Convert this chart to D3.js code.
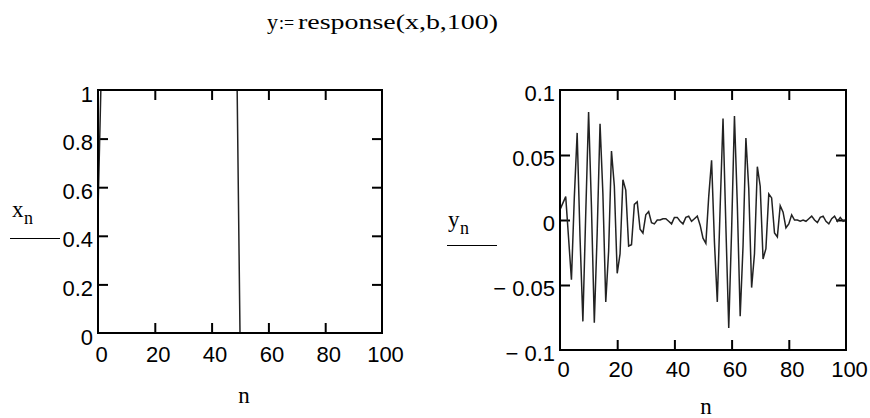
<!DOCTYPE html>
<html><head><meta charset="utf-8">
<script src="https://cdn.jsdelivr.net/npm/d3@7"></script>
<style>body{margin:0;background:#fff}svg{display:block}</style>
</head><body><svg id="c" width="870" height="418"></svg>
<script>
// sample index n = 0..100
const nIndex = d3.range(0, 101);

// input x_n (left chart)
const xSeries = [
  0.5, 1, 1, 1, 1, 1, 1, 1, 1, 1,
  1, 1, 1, 1, 1, 1, 1, 1, 1, 1,
  1, 1, 1, 1, 1, 1, 1, 1, 1, 1,
  1, 1, 1, 1, 1, 1, 1, 1, 1, 1,
  1, 1, 1, 1, 1, 1, 1, 1, 1, 1,
  0, 0, 0, 0, 0, 0, 0, 0, 0, 0,
  0, 0, 0, 0, 0, 0, 0, 0, 0, 0,
  0, 0, 0, 0, 0, 0, 0, 0, 0, 0,
  0, 0, 0, 0, 0, 0, 0, 0, 0, 0,
  0, 0, 0, 0, 0, 0, 0, 0, 0, 0,
  0
];

// response y_n (right chart)
const ySeries = [
  0.008, 0.013, 0.018, -0.014, -0.046, 0.017, 0.067, -0.013, -0.078, 0.005,
  0.083, 0.010, -0.079, -0.010, 0.074, 0.020, -0.063, -0.024, 0.053, 0.026,
  -0.041, -0.026, 0.031, 0.023, -0.020, -0.019, 0.012, 0.014, -0.007, -0.010,
  0.004, 0.0065, -0.002, -0.003, 0.000, 0.000, 0.001, 0.001, -0.001, -0.003,
  0.002, 0.002, -0.001, -0.003, 0.002, 0.003, -0.001, 0.001, 0.003, -0.004,
  -0.014, -0.018, 0.018, 0.046, -0.017, -0.063, 0.010, 0.078, -0.005, -0.083,
  -0.008, 0.080, 0.012, -0.074, -0.020, 0.063, 0.024, -0.052, -0.026, 0.041,
  0.026, -0.030, -0.022, 0.020, 0.017, -0.010, -0.013, 0.011, 0.006, -0.006,
  -0.003, 0.004, 0.000, 0.000, -0.001, 0.000, -0.001, 0.001, 0.003, 0.000,
  -0.002, 0.002, 0.003, -0.001, -0.003, 0.001, 0.003, -0.001, 0.002, -0.001,
  0.000
];

const xTicks = [0, 20, 40, 60, 80, 100];
const xTickLabels = ["0", "20", "40", "60", "80", "100"];
const leftYTicks = [0, 0.2, 0.4, 0.6, 0.8, 1];
const leftYTickLabels = ["0", "0.2", "0.4", "0.6", "0.8", "1"];
const rightYTicks = [-0.1, -0.05, 0, 0.05, 0.1];
const rightYTickLabels = ["\u2212 0.1", "\u2212 0.05", "0", "0.05", "0.1"];

const titleParts = ["y", ":=", "response(x,b,100)"];

const svg = d3.select("#c");
const SANS = "'Liberation Sans', Arial, sans-serif";
const SERIF = "'Liberation Serif', 'Times New Roman', serif";

function panel(cfg) {
  const x = d3.scaleLinear().domain([0, 100]).range([cfg.left, cfg.right]);
  const y = d3.scaleLinear().domain(cfg.yDomain).range([cfg.bottom, cfg.top]);
  const g = svg.append("g");
  const inner = cfg.xTicks.slice(1, -1);
  const innerY = cfg.yTicks.slice(1, -1);
  const TL = 10;

  // inward ticks on four sides
  const tickAxes = [
    [d3.axisBottom(x).tickValues(inner).tickSize(-TL).tickFormat(""), `translate(0,${cfg.bottom})`],
    [d3.axisTop(x).tickValues(inner).tickSize(-TL).tickFormat(""), `translate(0,${cfg.top})`],
    [d3.axisLeft(y).tickValues(innerY).tickSize(-TL).tickFormat(""), `translate(${cfg.left},0)`],
    [d3.axisRight(y).tickValues(innerY).tickSize(-TL).tickFormat(""), `translate(${cfg.right},0)`]
  ];
  tickAxes.forEach(([ax, tr]) => {
    const a = g.append("g").attr("transform", tr).call(ax);
    a.select(".domain").remove();
    a.selectAll("line").attr("stroke", "#000").attr("stroke-width", 2);
  });

  // tick labels
  const xl = g.append("g").attr("transform", `translate(0,${cfg.bottom})`)
    .call(d3.axisBottom(x).tickValues(cfg.xTicks).tickSize(0)
      .tickFormat((d, i) => cfg.xTickLabels[i]));
  xl.select(".domain").remove();
  xl.selectAll("text").attr("font-family", SANS).attr("font-size", 22)
    .attr("fill", "#000").attr("dy", null).attr("y", cfg.xLabelBase - cfg.bottom).attr("dx", 3);

  const yl = g.append("g").attr("transform", `translate(${cfg.left},0)`)
    .call(d3.axisLeft(y).tickValues(cfg.yTicks).tickSize(0)
      .tickFormat((d, i) => cfg.yTickLabels[i]));
  yl.select(".domain").remove();
  yl.selectAll("text").attr("font-family", SANS).attr("font-size", 22)
    .attr("fill", "#000").attr("x", -5).attr("dy", null).attr("y", cfg.yLabelOff);

  // data line
  const line = d3.line().x((d, i) => x(nIndex[i])).y(d => y(d));
  g.append("path").datum(cfg.series).attr("d", line)
    .attr("fill", "none").attr("stroke", "#222").attr("stroke-width", 1.5)
    .attr("stroke-linejoin", "miter");

  // frame
  g.append("rect").attr("x", cfg.left).attr("y", cfg.top)
    .attr("width", cfg.right - cfg.left).attr("height", cfg.bottom - cfg.top)
    .attr("fill", "none").attr("stroke", "#000").attr("stroke-width", 2);

  // x axis name
  g.append("text").attr("x", cfg.nX).attr("y", cfg.nY).attr("text-anchor", "middle")
    .attr("font-family", SERIF).attr("font-size", 23).text("n");

  // y axis name with subscript and rule
  const vt = g.append("text").attr("font-family", SERIF).attr("font-size", 23);
  vt.append("tspan").attr("x", cfg.vX).attr("y", cfg.vY).text(cfg.varName);
  vt.append("tspan").attr("x", cfg.vX + 12).attr("y", cfg.vY + 7).attr("font-size", 18).text("n");
  g.append("line").attr("x1", cfg.ruleX1).attr("x2", cfg.ruleX2)
    .attr("y1", cfg.ruleY).attr("y2", cfg.ruleY).attr("stroke", "#000").attr("stroke-width", 1);
}

panel({
  left: 98, right: 382, top: 90, bottom: 333,
  yDomain: [0, 1], series: xSeries,
  xTicks, xTickLabels, yTicks: leftYTicks, yTickLabels: leftYTickLabels,
  xLabelBase: 362, yLabelOff: 11,
  nX: 244, nY: 403,
  varName: "x", vX: 12, vY: 217, ruleX1: 10, ruleX2: 60, ruleY: 238.5
});

panel({
  left: 560, right: 846, top: 90, bottom: 350,
  yDomain: [-0.1, 0.1], series: ySeries,
  xTicks, xTickLabels, yTicks: rightYTicks, yTickLabels: rightYTickLabels,
  xLabelBase: 377, yLabelOff: 10,
  nX: 706, nY: 414,
  varName: "y", vX: 448, vY: 227, ruleX1: 447, ruleX2: 497, ruleY: 245.5
});

// title (one text element, three positioned parts)
const tt = svg.append("text").attr("font-family", SERIF).attr("font-size", 22).attr("fill", "#000");
tt.append("tspan").attr("x", 267).attr("y", 29).text(titleParts[0]);
tt.append("tspan").attr("x", 279).attr("y", 29).attr("font-size", 18).text(titleParts[1]);
tt.append("tspan").attr("x", 298).attr("y", 29).attr("textLength", 200)
  .attr("lengthAdjust", "spacingAndGlyphs").text(titleParts[2]);
</script>
</body></html>
